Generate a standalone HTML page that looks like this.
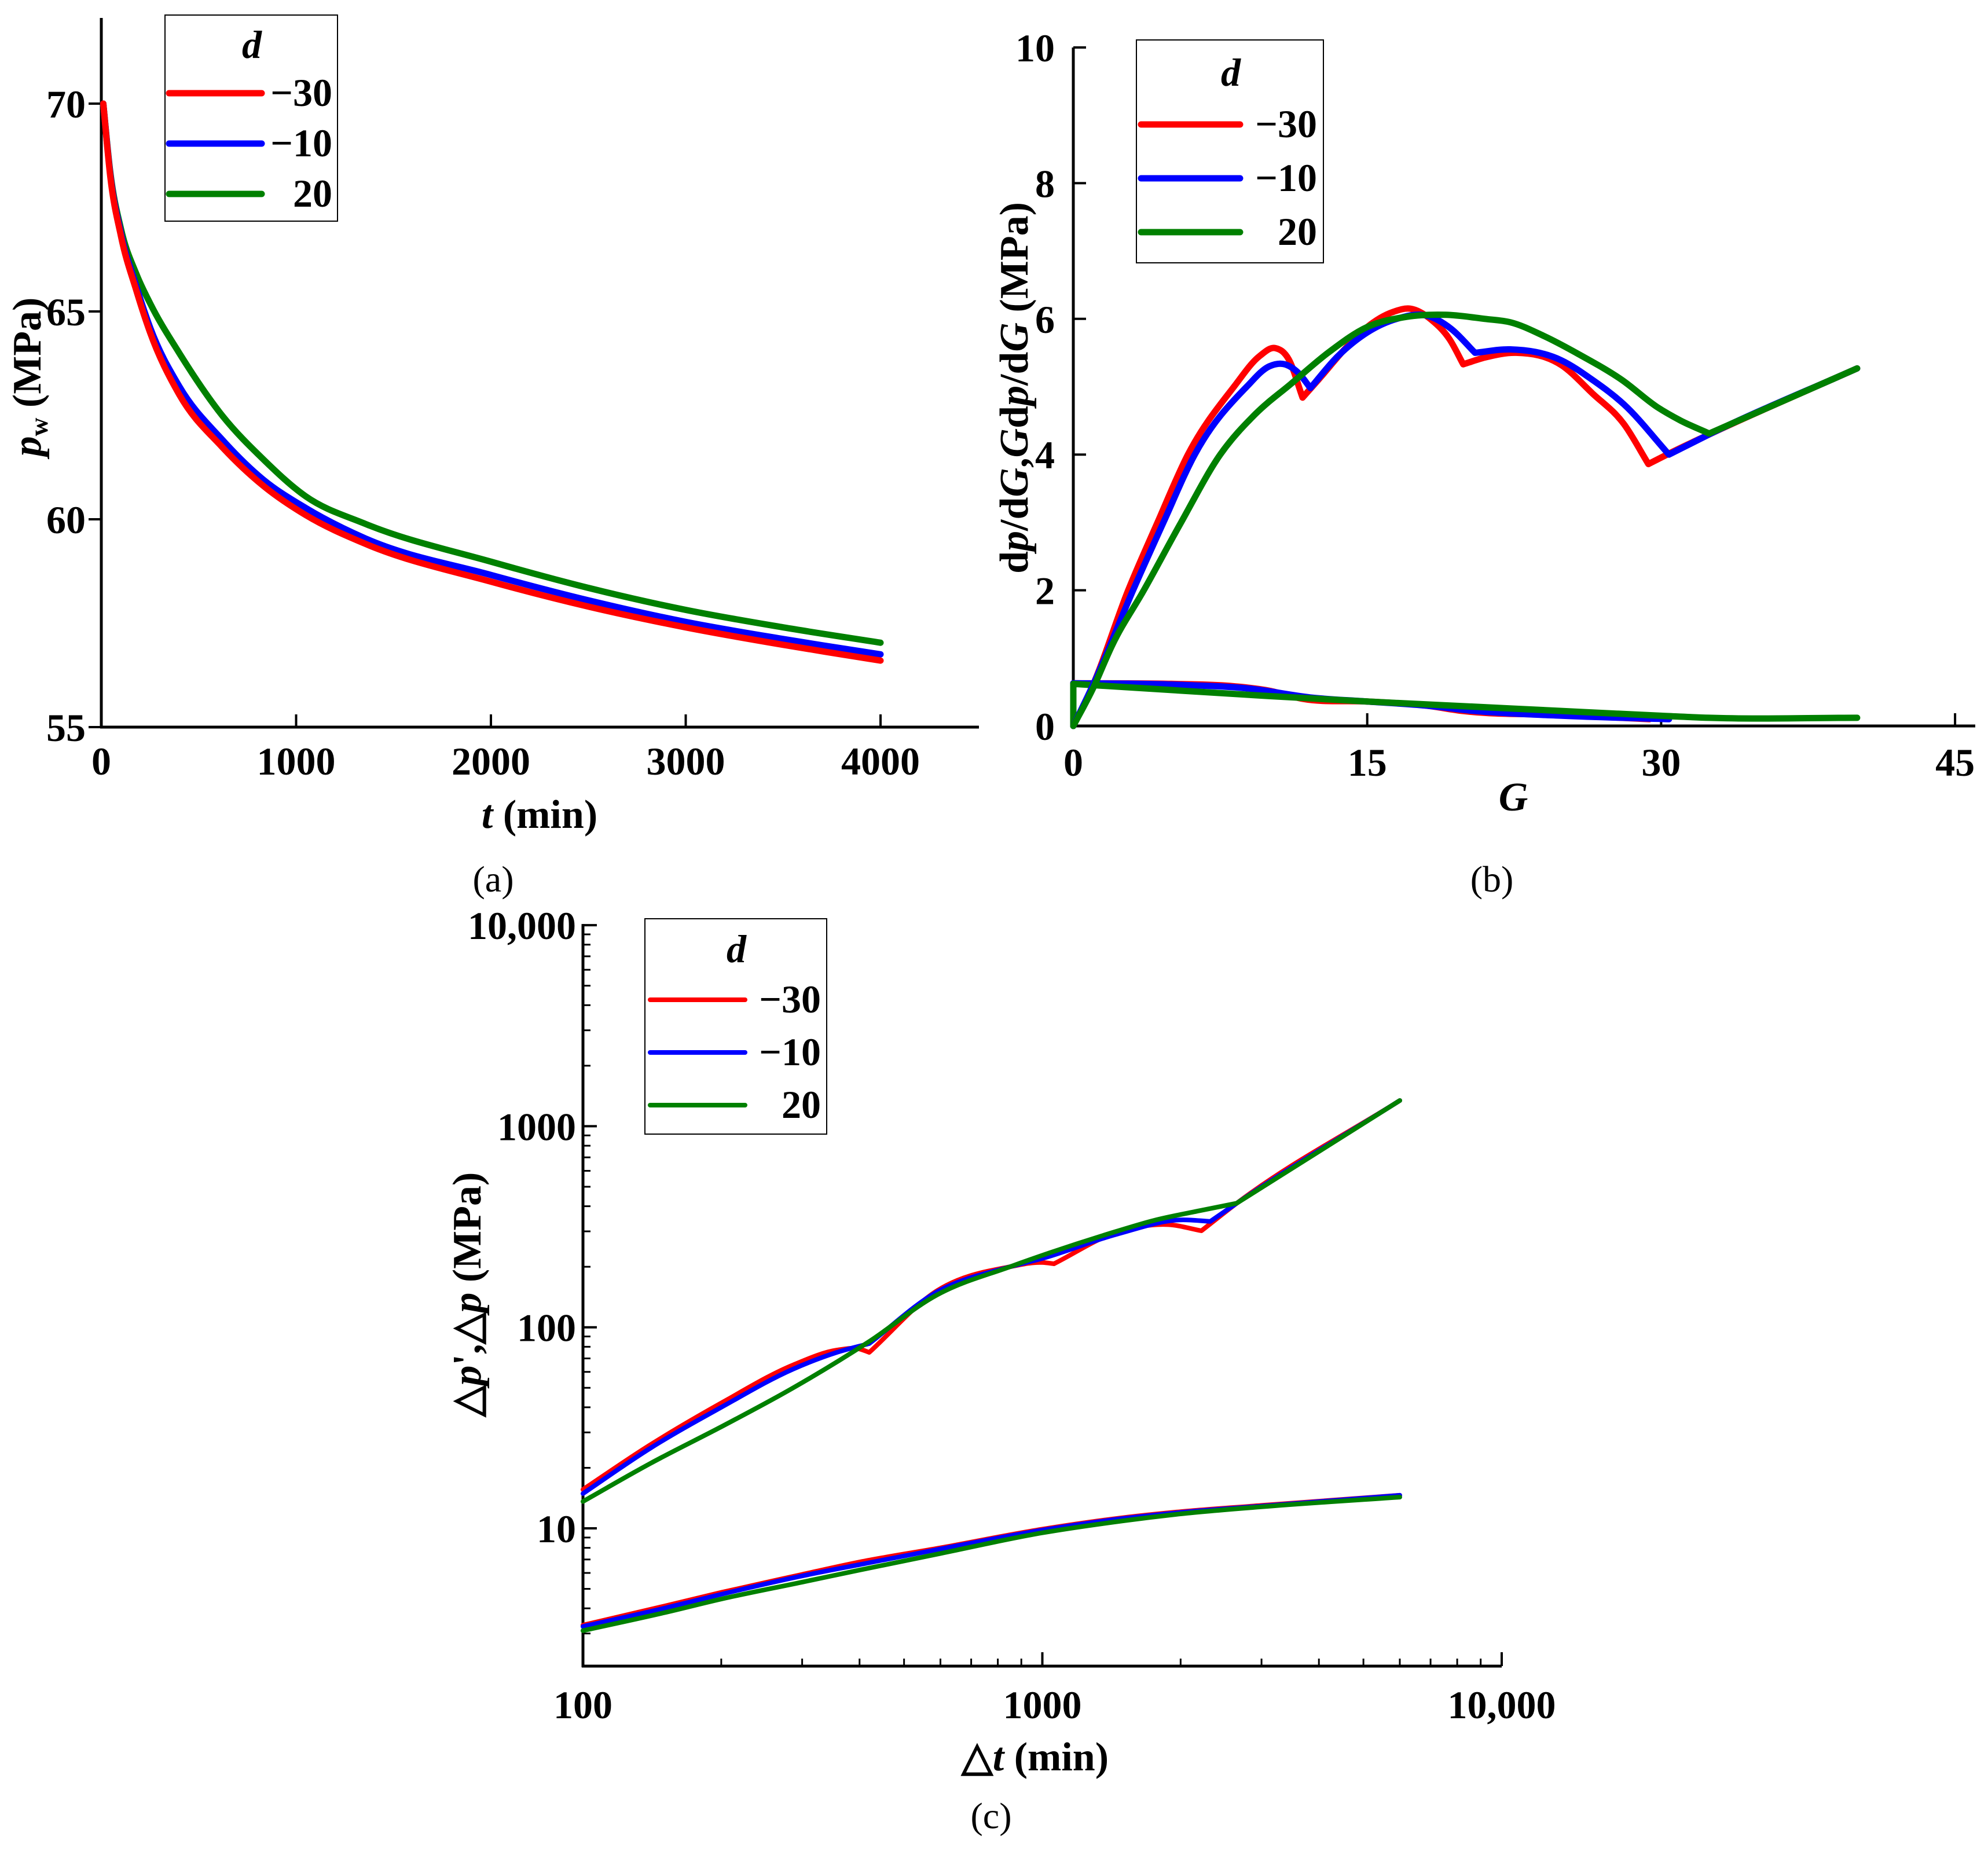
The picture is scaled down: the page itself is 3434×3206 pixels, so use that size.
<!DOCTYPE html>
<html><head><meta charset="utf-8"><style>
html,body{margin:0;padding:0;background:#fff;}
svg{display:block;}
svg text{font-family:"Liberation Serif","Times New Roman",serif;font-weight:bold;}
</style></head><body>
<svg id="fig" xmlns="http://www.w3.org/2000/svg" width="3434" height="3206" viewBox="0 0 3434 3206"></svg>
<script>
// ---------- Panel (a) data ----------
const aT = [10,46,100,180,250,400,620,830,1050,1350,2000,2500,3000,3500,4000];
const aRed = [70,68.25,66.83,65.5,64.5,63.0,61.74,60.81,60.1,59.42,58.5,57.9,57.4,56.98,56.6];
const aBlue = [70,68.3,66.9,65.6,64.62,63.2,61.92,60.96,60.27,59.55,58.66,58.05,57.53,57.12,56.75];
const aGreen = [70,68.35,67.0,65.9,65.2,64.0,62.5,61.45,60.55,59.9,58.98,58.35,57.82,57.4,57.03];
const aXTicks = [0,1000,2000,3000,4000];
const aYTicks = [55,60,65,70];
// ---------- Panel (b) data ----------
const bRedG = [0,1,2.8,4.3,5.85,8.2,9.5,10.3,11,11.7,12.5,14,15,16.3,17.2,18.3,19.2,19.9,21,22.6,24.9,26.5,28.1,29.35,30.3,32.4,40];
const bRedV = [0,0.6,2,3,4,5,5.45,5.57,5.4,4.84,5.1,5.6,5.88,6.1,6.15,5.98,5.7,5.33,5.43,5.5,5.32,4.9,4.45,3.86,4.0,4.29,5.27];
const bBlueG = [0,1,3.05,4.6,6.2,8.85,10,10.8,11.5,12.1,13.5,15,16.5,18,19.3,20.5,22.3,24.9,26.5,28.1,30.4,32.4,40];
const bBlueV = [0,0.6,2,3,4,5,5.3,5.33,5.2,4.98,5.45,5.8,6.0,6.05,5.85,5.5,5.55,5.39,5.1,4.74,4.0,4.29,5.27];
const bGreenG = [0,1,2,3.6,5.5,7.5,9.3,11.1,13,15,17,19,21,22.3,24,25.85,28,29.8,31,32.45,40];
const bGreenV = [0,0.55,1.2,2,3,4,4.6,5.04,5.5,5.88,6.03,6.06,6.0,5.95,5.75,5.47,5.1,4.7,4.5,4.31,5.27];
const bRedLowG = [0,5,8,10,11.7,15,18,19.9,25,29.4];
const bRedLowV = [0.63,0.62,0.59,0.52,0.4,0.36,0.3,0.22,0.16,0.1];
const bBlueLowG = [0,5,9,12.1,15,18,20.5,25,30.4];
const bBlueLowV = [0.63,0.61,0.55,0.42,0.36,0.3,0.22,0.15,0.1];
const bGreenLowG = [0,0,5,10,15,20,25,30,32.45,40];
const bGreenLowV = [0,0.62,0.53,0.44,0.36,0.29,0.22,0.15,0.12,0.12];
const bXTicks = [0,15,30,45];
const bYTicks = [0,2,4,6,8,10];
// ---------- Panel (c) data ----------
const cRedT = [100,140,200,287,357,400,420,590,850,1000,1060,1450,1880,2220,2650,6000];
const cRedV = [15.6,26,42,65,77,78,75,152,200,210,207,296,324,302,414,1342];
const cBlueT = [100,140,200,287,357,420,590,850,1000,1450,2000,2320,2650,6000];
const cBlueV = [14.9,25,40,62,75,83,150,200,220,290,342,336,414,1342];
const cGreenT = [100,140,200,287,420,590,850,1000,1450,1750,2200,2650,6000];
const cGreenV = [13.6,21,32,50,85,145,200,228,300,340,380,414,1342];
const cLowT = [100,150,200,300,400,600,1000,1500,2000,3000,6000];
const cRedLow = [3.3,4.1,4.8,5.9,6.8,8.0,9.9,11.3,12.1,13.0,14.6];
const cBlueLow = [3.25,4.0,4.7,5.8,6.6,7.9,9.8,11.2,12.0,12.9,14.6];
const cGreenLow = [3.1,3.8,4.45,5.4,6.2,7.5,9.5,10.9,11.8,12.8,14.3];
const cXTicks = [100,1000,10000];
const cXTickLabels = ["100","1000","10,000"];
const cYTicks = [10,100,1000,10000];
const cYTickLabels = ["10","100","1000","10,000"];
const legendLabels = ["\u221230","\u221210","20"];
const colors = ["#ff0000","#0000ff","#008000"];

const NS = "http://www.w3.org/2000/svg";
const svg = document.getElementById("fig");
function el(tag, attrs, parent, text){
  const e = document.createElementNS(NS, tag);
  for (const k in attrs) e.setAttribute(k, attrs[k]);
  if (text !== undefined) e.textContent = text;
  (parent || svg).appendChild(e);
  return e;
}
function group(name){
  const g = el("g", {});
  
  
  return g;
}
function line(g, x1,y1,x2,y2,w){ return el("line",{x1,y1,x2,y2,stroke:"#000","stroke-width":w||5},g); }
const f1 = v=>v.toFixed(1);
function smoothPath(P, cornerDeg){
  const n = P.length;
  const brk = new Array(n).fill(false);
  for (let i=1;i<n-1;i++){
    const a=P[i-1], b=P[i], c=P[i+1];
    if (b[0]-a[0]<0.01 || c[0]-b[0]<0.01){ brk[i]=true; continue; }
    const ang1=Math.atan2(a[1]-b[1], b[0]-a[0]);
    const ang2=Math.atan2(b[1]-c[1], c[0]-b[0]);
    const turn=(ang2-ang1)*180/Math.PI;
    if (turn > cornerDeg) brk[i]=true;
  }
  let d = "M"+f1(P[0][0])+","+f1(P[0][1]);
  let start = 0;
  for (let i=1;i<n;i++){
    if (brk[i] || i===n-1){
      const run = P.slice(start, i+1);
      const m = run.length;
      if (run[m-1][0]-run[0][0] < 0.01 || m===2){
        d += "L"+f1(run[m-1][0])+","+f1(run[m-1][1]);
      } else {
        const t = new Array(m);
        for (let k=1;k<m-1;k++){
          const h0=run[k][0]-run[k-1][0], h1=run[k+1][0]-run[k][0];
          const s0=(run[k][1]-run[k-1][1])/h0, s1=(run[k+1][1]-run[k][1])/h1;
          t[k]=(s0*h1+s1*h0)/(h0+h1);
        }
        t[0]=(run[1][1]-run[0][1])/(run[1][0]-run[0][0]);
        t[m-1]=(run[m-1][1]-run[m-2][1])/(run[m-1][0]-run[m-2][0]);
        for (let k=0;k<m-1;k++){
          const a=run[k], b=run[k+1], dx=(b[0]-a[0])/3;
          d += "C"+f1(a[0]+dx)+","+f1(a[1]+dx*t[k])+" "+f1(b[0]-dx)+","+f1(b[1]-dx*t[k+1])+" "+f1(b[0])+","+f1(b[1]);
        }
      }
      start = i;
    }
  }
  return d;
}
function series(g, xs, ys, xf, yf, color, w, name, cornerDeg){
  const P = xs.map((x,i)=>[xf(x), yf(ys[i])]);
  const p = el("path",{d:smoothPath(P, cornerDeg),fill:"none",stroke:color,"stroke-width":w,"stroke-linejoin":"round","stroke-linecap":"round"},g);
  
  
}
function text(g, x, y, s, size, anchor, name, extra){
  const t = el("text", Object.assign({x,y,"font-size":size,"text-anchor":anchor||"middle"}, extra||{}), g, s);
  
  
  return t;
}
function legend(g, bx, by, bw, bh, dx, dy, lx1, lx2, ly, step, labX, w, fs){
  const lg = el("g",{},g);
  
  
  el("rect",{x:bx,y:by,width:bw,height:bh,fill:"#fff",stroke:"#000","stroke-width":2},lg);
  text(lg, dx, dy, "d", fs, "middle", "legend-title", {"font-style":"italic"});
  legendLabels.forEach((lab,i)=>{
    const y = ly + i*step;
    const l = el("line",{x1:lx1,y1:y,x2:lx2,y2:y,stroke:colors[i],"stroke-width":w,"stroke-linecap":"round"},lg);
    
    
    text(lg, labX, y+22, lab, fs, "end", "legend-entry");
  });
}
const FS = 68;
const NORMAL = {style:"font-weight:normal"};

// ================= Panel (a) =================
(function(){
  const g = group("panel-a");
  const x0=175, xPer=336.5/1000, y55=1256, yPer=359/5;
  const xf = v=>x0+v*xPer, yf = v=>y55-(v-55)*yPer;
  line(g,x0,31,x0,y55+2); line(g,x0-2,y55,1691,y55);
  aXTicks.forEach(t=>{ line(g,xf(t),y55,xf(t),y55-22,4); text(g,xf(t),y55+82,String(t),FS,"middle","x-tick-label"); });
  aYTicks.forEach(t=>{ line(g,x0,yf(t),x0-22,yf(t),4); text(g,148,yf(t)+24,String(t),FS,"end","y-tick-label"); });
  series(g,aT,aGreen,xf,yf,colors[2],11,"line-d20",999);
  series(g,aT,aBlue,xf,yf,colors[1],11,"line-d-10",999);
  series(g,aT,aRed,xf,yf,colors[0],11,"line-d-30",999);
  const xl = text(g,932,1430,"",70,"middle","x-axis-title");
  el("tspan",{"font-style":"italic"},xl,"t"); el("tspan",{},xl," (min)");
  const yl = text(g,0,0,"",70,"middle","y-axis-title",{transform:"translate(70,651) rotate(-90)"});
  el("tspan",{"font-style":"italic"},yl,"p"); el("tspan",{"font-size":44,"dy":12},yl,"w"); el("tspan",{"dy":-12},yl," (MPa)");
  legend(g,285,26,298,356,435,100,292,452,161,87,574,11,FS);
  text(g,852,1540,"(a)",64,"middle","panel-label-a",NORMAL);
})();

// ================= Panel (b) =================
(function(){
  const g = group("panel-b");
  const x0=1854, xPer=507.7/15, y0=1254, yPer=117.2;
  const xf = v=>x0+v*xPer, yf = v=>y0-v*yPer;
  line(g,x0,yf(10),x0,y0+2); line(g,x0-2,y0,3412,y0);
  bXTicks.forEach(t=>{ line(g,xf(t),y0,xf(t),y0-22,4); text(g,xf(t),y0+86,String(t),FS,"middle","x-tick-label"); });
  bYTicks.forEach(t=>{ line(g,x0,yf(t),x0+22,yf(t),4); text(g,1822,yf(t)+24,String(t),FS,"end","y-tick-label"); });
  series(g,bRedLowG,bRedLowV,xf,yf,colors[0],11,"lower-line-d-30",20);
  series(g,bBlueLowG,bBlueLowV,xf,yf,colors[1],11,"lower-line-d-10",20);
  series(g,bGreenLowG,bGreenLowV,xf,yf,colors[2],11,"lower-line-d20",20);
  series(g,bRedG,bRedV,xf,yf,colors[0],11,"line-d-30",20);
  series(g,bBlueG,bBlueV,xf,yf,colors[1],11,"line-d-10",20);
  series(g,bGreenG,bGreenV,xf,yf,colors[2],11,"line-d20",20);
  text(g,2614,1400,"G",70,"middle","x-axis-title",{"font-style":"italic"});
  const yl = text(g,0,0,"",70,"middle","y-axis-title",{transform:"translate(1775,670) rotate(-90)"});
  el("tspan",{},yl,"d"); el("tspan",{"font-style":"italic"},yl,"p"); el("tspan",{},yl,"/d");
  el("tspan",{"font-style":"italic"},yl,"G"); el("tspan",{},yl,",");
  el("tspan",{"font-style":"italic"},yl,"G"); el("tspan",{},yl,"d");
  el("tspan",{"font-style":"italic"},yl,"p"); el("tspan",{},yl,"/d");
  el("tspan",{"font-style":"italic"},yl,"G"); el("tspan",{},yl," (MPa)");
  legend(g,1963,69,323,385,2126,148,1971,2142,215,93,2275,11,FS);
  text(g,2577,1540,"(b)",64,"middle","panel-label-b",NORMAL);
})();

// ================= Panel (c) =================
(function(){
  const g = group("panel-c");
  const x0=1007, xDec=793.5, y10=2640, yDec=347.3, yBot=2878;
  const xf = v=>x0+(Math.log10(v)-2)*xDec, yf = v=>y10-(Math.log10(v)-1)*yDec;
  line(g,x0,yf(10000)-2,x0,yBot+2); line(g,x0-2,yBot,xf(10000),yBot);
  cXTicks.forEach((t,i)=>{ line(g,xf(t),yBot,xf(t),yBot-24,4); text(g,xf(t),2968,cXTickLabels[i],FS,"middle","x-tick-label"); });
  for(let d=100; d<10000; d*=10) for(let k=2;k<10;k++){ line(g,xf(d*k),yBot,xf(d*k),yBot-13,3); }
  cYTicks.forEach((t,i)=>{ line(g,x0,yf(t),x0+24,yf(t),4); text(g,995,yf(t)+24,cYTickLabels[i],FS,"end","y-tick-label"); });
  for(let d=1; d<10000; d*=10) for(let k=2;k<10;k++){ const v=d*k; if(yf(v)<yBot) line(g,x0,yf(v),x0+13,yf(v),3); }
  series(g,cLowT,cRedLow,xf,yf,colors[0],8,"lower-line-d-30",8);
  series(g,cLowT,cBlueLow,xf,yf,colors[1],8,"lower-line-d-10",8);
  series(g,cLowT,cGreenLow,xf,yf,colors[2],8,"lower-line-d20",8);
  series(g,cRedT,cRedV,xf,yf,colors[0],8,"line-d-30",8);
  series(g,cBlueT,cBlueV,xf,yf,colors[1],8,"line-d-10",8);
  series(g,cGreenT,cGreenV,xf,yf,colors[2],8,"line-d20",8);
  const xl = text(g,1788,3058,"",70,"middle","x-axis-title");
  el("tspan",{},xl,"\u25B3"); el("tspan",{"font-style":"italic"},xl,"t"); el("tspan",{},xl," (min)");
  const yl = text(g,0,0,"",70,"middle","y-axis-title",{transform:"translate(830,2236) rotate(-90)"});
  el("tspan",{},yl,"\u25B3"); el("tspan",{"font-style":"italic"},yl,"p"); el("tspan",{},yl,"',\u25B3");
  el("tspan",{"font-style":"italic"},yl,"p"); el("tspan",{},yl," (MPa)");
  legend(g,1114,1587,314,372,1272,1662,1123,1287,1727,91,1418,8,FS);
  text(g,1712,3158,"(c)",64,"middle","panel-label-c",NORMAL);
})();
</script>
</body></html>
